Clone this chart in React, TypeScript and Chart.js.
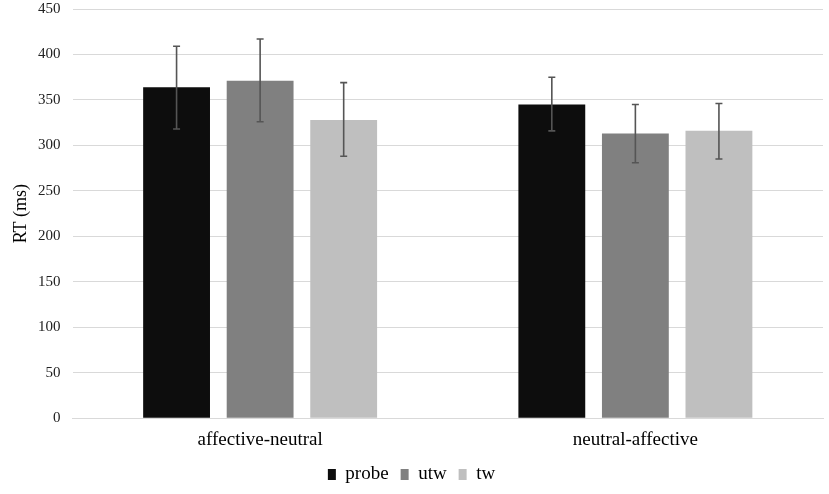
import { useEffect, useRef } from "react";
import { Chart, registerables } from "chart.js";

Chart.register(...registerables);

const categories = ["affective-neutral", "neutral-affective"];
const seriesNames = ["probe", "utw", "tw"];
const seriesColors = ["#0d0d0d", "#808080", "#bfbfbf"];

const probe = [364, 345];
const utw = [371, 313];
const tw = [328, 316];

const probeLow = [318, 316];
const probeHigh = [409, 375];
const utwLow = [326, 281];
const utwHigh = [417, 345];
const twLow = [288, 285];
const twHigh = [369, 346];

const yTicks = [0, 50, 100, 150, 200, 250, 300, 350, 400, 450];

const errorBars = {
  id: "errorBars",
  afterDatasetsDraw(chart: any) {
    const ctx = chart.ctx;
    const y = chart.scales.y;
    const lows = [probeLow, utwLow, twLow];
    const highs = [probeHigh, utwHigh, twHigh];
    ctx.save();
    ctx.strokeStyle = "#555555";
    ctx.lineWidth = 1.6;
    chart.data.datasets.forEach((_: any, di: number) => {
      const meta = chart.getDatasetMeta(di);
      meta.data.forEach((bar: any, i: number) => {
        const x = bar.x;
        const top = y.getPixelForValue(highs[di][i]);
        const bot = y.getPixelForValue(lows[di][i]);
        ctx.beginPath();
        ctx.moveTo(x, top);
        ctx.lineTo(x, bot);
        ctx.moveTo(x - 3.5, top);
        ctx.lineTo(x + 3.5, top);
        ctx.moveTo(x - 3.5, bot);
        ctx.lineTo(x + 3.5, bot);
        ctx.stroke();
      });
    });
    ctx.restore();
  },
};

export default function App() {
  const canvasRef = useRef<HTMLCanvasElement | null>(null);

  useEffect(() => {
    if (!canvasRef.current) return;
    document.body.style.margin = "0";
    const values = [probe, utw, tw];
    const chart = new Chart(canvasRef.current, {
      type: "bar",
      data: {
        labels: categories,
        datasets: seriesNames.map((name, i) => ({
          label: name,
          data: values[i],
          backgroundColor: seriesColors[i],
          borderWidth: 0,
          barPercentage: 0.8,
          categoryPercentage: 0.668,
        })),
      },
      options: {
        animation: false,
        responsive: false,
        layout: { padding: { top: 0, right: 6, left: 0, bottom: 0 } },
        plugins: {
          tooltip: { enabled: false },
          legend: {
            position: "bottom",
            labels: {
              boxWidth: 8,
              boxHeight: 11,
              padding: 12,
              color: "#000",
              font: { family: "Liberation Serif", size: 19 },
            },
          },
        },
        scales: {
          x: {
            grid: { display: false },
            border: { color: "#d9d9d9", width: 1 },
            ticks: {
              color: "#000",
              padding: 2,
              font: { family: "Liberation Serif", size: 19 },
            },
          },
          y: {
            min: 0,
            max: 450,
            afterBuildTicks: (axis: any) => {
              axis.ticks = yTicks.map((v) => ({ value: v }));
            },
            grid: {
              color: "#d9d9d9",
              lineWidth: 1,
              drawTicks: true,
              tickLength: 12,
              tickColor: "rgba(0,0,0,0)",
            },
            border: { display: false },
            ticks: {
              color: "#222",
              padding: 0,
              font: { family: "Liberation Serif", size: 15 },
            },
            title: {
              display: true,
              text: "RT (ms)",
              color: "#000",
              padding: { top: 12, bottom: 8 },
              font: { family: "Liberation Serif", size: 18, lineHeight: 1 },
            },
          },
        },
      },
      plugins: [errorBars],
    });
    return () => chart.destroy();
  }, []);

  return (
    <div style={{ width: 829, height: 494, background: "#fff" }}>
      <canvas ref={canvasRef} width={829} height={494}></canvas>
    </div>
  );
}
